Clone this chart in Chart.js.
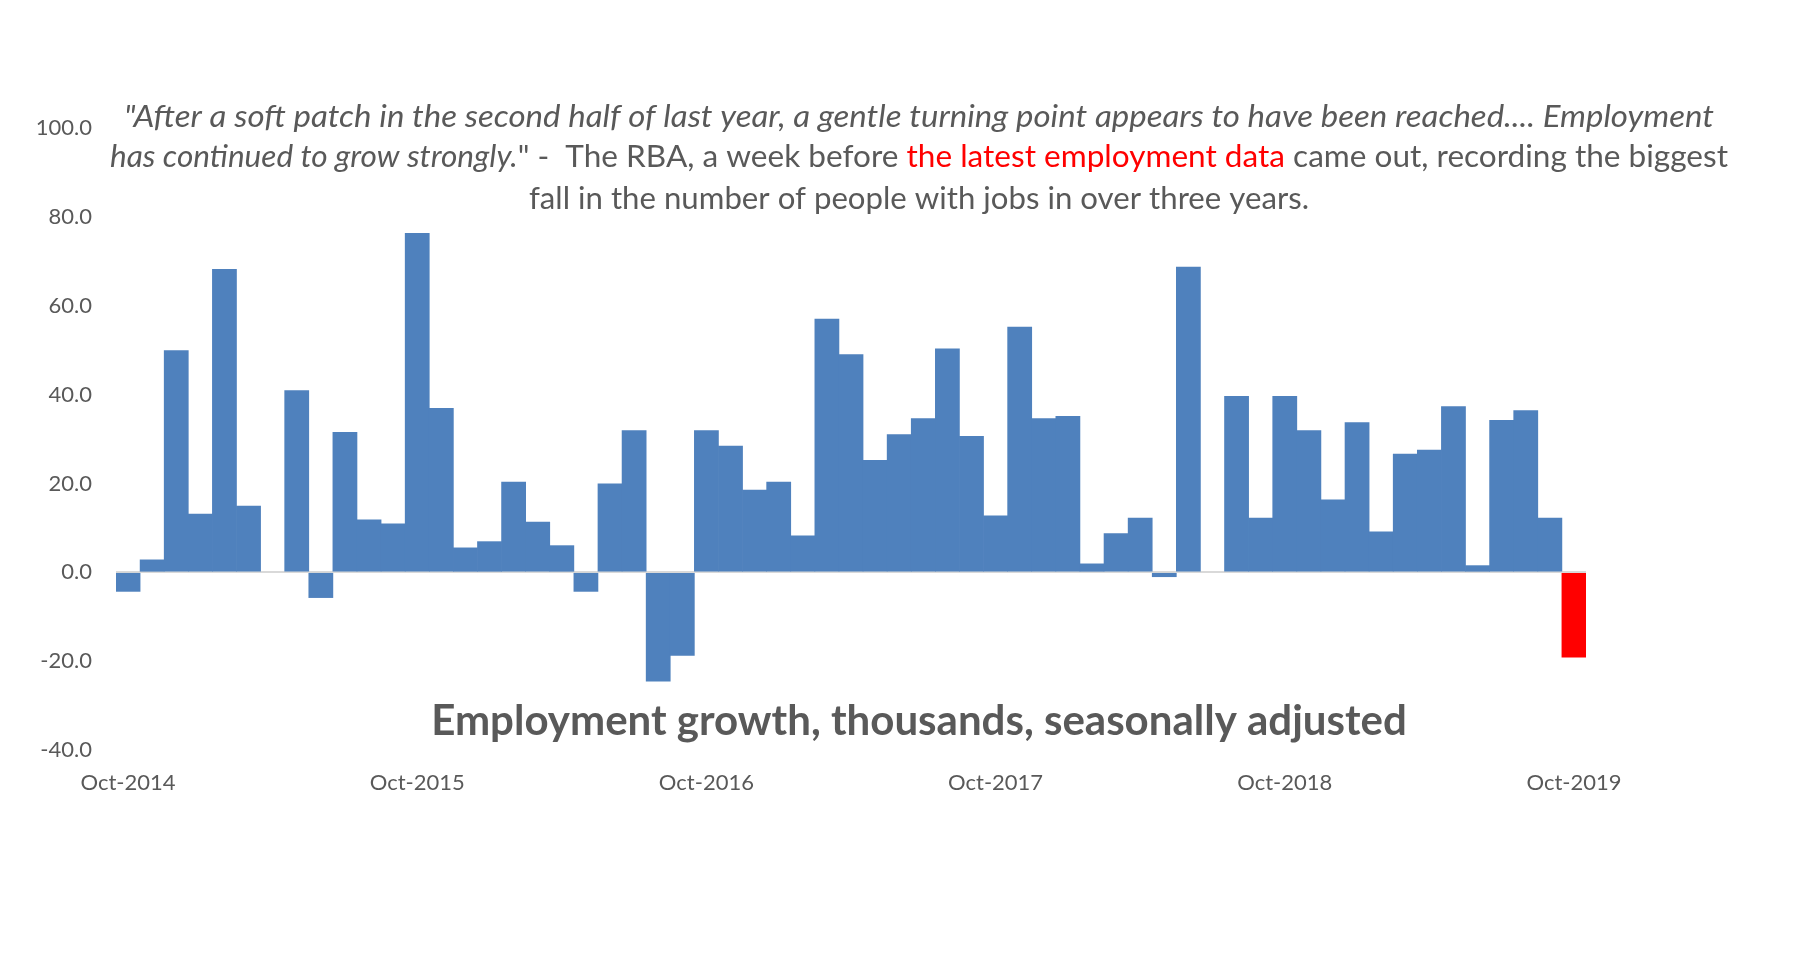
<!DOCTYPE html>
<html>
<head>
<meta charset="utf-8">
<style>
  html, body { margin: 0; padding: 0; background: #ffffff; }
  #wrap { width: 1812px; height: 966px; }
</style>
</head>
<body>
<div id="wrap"><canvas id="jobsChart"></canvas></div>

<script src="https://cdn.jsdelivr.net/npm/chart.js"></script>

<script>
  // monthly change in employed persons, thousands, seasonally adjusted
  const months = [
    'Oct-2014', 'Nov-2014', 'Dec-2014',
    'Jan-2015', 'Feb-2015', 'Mar-2015', 'Apr-2015', 'May-2015', 'Jun-2015',
    'Jul-2015', 'Aug-2015', 'Sep-2015', 'Oct-2015', 'Nov-2015', 'Dec-2015',
    'Jan-2016', 'Feb-2016', 'Mar-2016', 'Apr-2016', 'May-2016', 'Jun-2016',
    'Jul-2016', 'Aug-2016', 'Sep-2016', 'Oct-2016', 'Nov-2016', 'Dec-2016',
    'Jan-2017', 'Feb-2017', 'Mar-2017', 'Apr-2017', 'May-2017', 'Jun-2017',
    'Jul-2017', 'Aug-2017', 'Sep-2017', 'Oct-2017', 'Nov-2017', 'Dec-2017',
    'Jan-2018', 'Feb-2018', 'Mar-2018', 'Apr-2018', 'May-2018', 'Jun-2018',
    'Jul-2018', 'Aug-2018', 'Sep-2018', 'Oct-2018', 'Nov-2018', 'Dec-2018',
    'Jan-2019', 'Feb-2019', 'Mar-2019', 'Apr-2019', 'May-2019', 'Jun-2019',
    'Jul-2019', 'Aug-2019', 'Sep-2019', 'Oct-2019'
  ];

  const employmentChange = [
    -4.3, 2.8, 49.9,
    13.1, 68.2, 14.9, null, 40.9, -5.7, 31.5, 11.8, 10.9, 76.3, 36.9, 5.5,
    6.9, 20.3, 11.3, 6.0, -4.3, 19.9, 31.9, -24.5, -18.7, 31.9, 28.4, 18.5,
    20.3, 8.2, 57.0, 49.0, 25.2, 31.0, 34.6, 50.3, 30.6, 12.7, 55.2, 34.6,
    35.1, 1.9, 8.7, 12.2, -1.0, 68.7, null, 39.6, 12.2, 39.6, 31.9, 16.3,
    33.7, 9.1, 26.6, 27.5, 37.3, 1.5, 34.2, 36.4, 12.2, -19.1
  ];

  // only these months get a label on the x axis
  const yearTicks = ['Oct-2014', 'Oct-2015', 'Oct-2016', 'Oct-2017', 'Oct-2018', 'Oct-2019'];
  const highlightMonth = 'Oct-2019';

  const quoteLines = [
    [{ text: '"After a soft patch in the second half of last year, a gentle turning point appears to have been reached.... Employment', italic: true }],
    [
      { text: 'has continued to grow strongly.', italic: true },
      { text: '" -  The RBA, a week before ' },
      { text: 'the latest employment data', color: '#ff0000' },
      { text: ' came out, recording the biggest' }
    ],
    [{ text: 'fall in the number of people with jobs in over three years.' }]
  ];
  const caption = [{ text: 'Employment growth, thousands, seasonally adjusted', bold: true }];

  const textColour = '#595959';
  const fontFamily = 'Lato, "Open Sans", sans-serif';

  function segFont(seg, size) {
    return (seg.italic ? 'italic ' : '') + (seg.bold ? 'bold ' : '') + size + 'px ' + fontFamily;
  }

  function lineWidth(ctx, line, size) {
    var w = 0;
    line.forEach(function (seg) {
      ctx.font = segFont(seg, size);
      w += ctx.measureText(seg.text).width;
    });
    return w;
  }

  // draws one centred line; squeezes or stretches it a little to the wanted width
  function drawLine(ctx, line, size, cx, y, wanted) {
    var w = lineWidth(ctx, line, size);
    var sx = wanted ? wanted / w : 1;
    ctx.save();
    ctx.translate(cx - w * sx / 2, y);
    ctx.scale(sx, 1);
    var x = 0;
    line.forEach(function (seg) {
      ctx.font = segFont(seg, size);
      ctx.fillStyle = seg.color || textColour;
      ctx.fillText(seg.text, x, 0);
      x += ctx.measureText(seg.text).width;
    });
    ctx.restore();
  }

  // quote at the top and the caption inside the plot, both drawn on the canvas
  const annotations = {
    id: 'annotations',
    afterDraw: function (chart) {
      var ctx = chart.ctx;
      ctx.save();
      ctx.textAlign = 'left';
      ctx.textBaseline = 'middle';
      var cx = 919;
      var quoteSize = 30 * 1618 / lineWidth(ctx, quoteLines[1], 30);
      drawLine(ctx, quoteLines[0], quoteSize, cx, 117, 1590);
      drawLine(ctx, quoteLines[1], quoteSize, cx, 157, 1618);
      drawLine(ctx, quoteLines[2], quoteSize, cx, 199, 780);
      var captionSize = 36 * 976 / lineWidth(ctx, caption, 36);
      drawLine(ctx, caption, captionSize, cx, 721);
      ctx.restore();
    }
  };

  const tickFont = { family: fontFamily, size: 22 };

  const ctx = document.getElementById('jobsChart');
  var jobsChart = new Chart(ctx, {
      type: 'bar',
      plugins: [annotations],
      data: {
          labels: months,
          datasets: [{
              label: 'Employment growth',
              data: employmentChange,
              borderWidth: 0,
              barPercentage: 1.0,
              categoryPercentage: 1.0,
              backgroundColor: function (c) {
                  return months[c.dataIndex] === highlightMonth ? '#ff0000' : '#4f81bd';
              },
          }]
      },
      options: {
          responsive: true,
          maintainAspectRatio: false,
          animation: false,
          layout: {
              padding: { left: 0, right: 226, top: 128, bottom: 0 }
          },
          plugins: {
              legend: { display: false },
              title: { display: false },
              tooltip: { enabled: false }
          },
          scales: {
              x: {
                  grid: { display: false, drawTicks: false },
                  border: { display: false },
                  ticks: {
                      autoSkip: false,
                      maxRotation: 0,
                      padding: 20,
                      color: textColour,
                      font: tickFont,
                      callback: function (val) {
                          var l = this.getLabelForValue(val);
                          return yearTicks.includes(l) ? l : '';
                      }
                  },
                  afterFit: function (scale) { scale.height = 216; }
              },
              y: {
                  min: -40,
                  max: 100,
                  z: 1,
                  border: { display: false },
                  grid: {
                      drawTicks: false,
                      lineWidth: 2,
                      color: function (c) {
                          return c.tick && c.tick.value === 0 ? '#d9d9d9' : 'rgba(0,0,0,0)';
                      }
                  },
                  ticks: {
                      stepSize: 20,
                      padding: 24,
                      color: textColour,
                      font: tickFont,
                      callback: function (v) { return v.toFixed(1); }
                  },
                  afterFit: function (scale) { scale.width = 116; }
              }
          }
      }
  });
</script>
</body>
</html>
